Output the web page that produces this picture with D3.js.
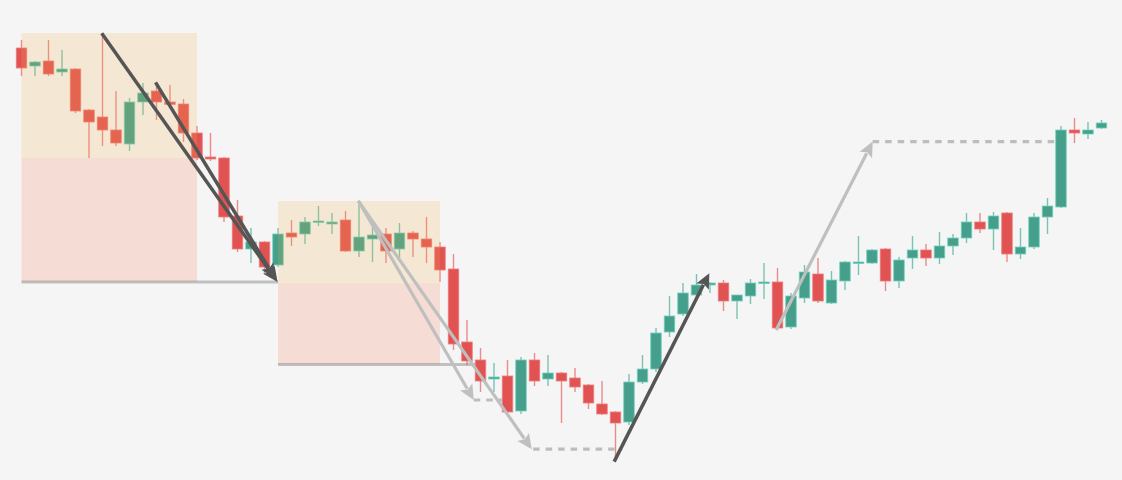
<!DOCTYPE html>
<html><head><meta charset="utf-8">
<script src="https://cdn.jsdelivr.net/npm/d3@7"></script>
<style>html,body{margin:0;padding:0;background:#f5f5f5;overflow:hidden}svg{display:block}</style>
</head><body>
<svg id="chart" width="1122" height="480"></svg>
<script>
// ---- data (price units) ----
const opens  = [108,103.5,104.75,102,102.75,92.5,90.75,87.5,84,94.5,97.25,94.5,94,86.75,80.75,80.5,66,57.75,59.5,53.75,61.75,61.5,64.4,64,65,57.25,60.25,61.5,57.75,61.75,60.25,58.25,52.75,34.5,30,25.25,26,17.25,30,25.25,26.75,25.5,23.75,19,17,14.5,24.5,27.75,37,41.5,46.25,48.75,49.25,44.75,46,49.25,49.5,38.25,45.5,51.5,44.25,49.75,54.25,54.25,57.75,49.75,55.5,57.5,55.5,58.5,60.5,64.5,62.75,66.75,56.5,58.25,65.75,68.25,87.5,86.5,88];
const highs  = [110,104.75,110,107.5,103,92.75,111.75,97.25,95.5,99.25,99.25,98.75,95.25,88.5,86.75,80.75,70,63,59.75,63,65,65.75,68.5,66.75,67.25,69.25,63.25,63,64.25,62.25,65.75,59.5,56.5,40,33,29.25,30,30.75,31.75,31.25,27,28,24,24.75,17.25,26.5,31.25,38,46,49.25,51.5,49.5,50,46.25,50.25,54.25,53,46.75,53.75,55.5,52.25,54.75,61,57.75,58,55.75,61,59,62,61.5,66.75,66.75,67,67,63,66.75,70.5,88.5,90.5,89.5,90];
const lows   = [101,101,101,101,91.75,80.5,83.5,83.5,82.25,91.25,90,93,84.5,80,79.75,64.5,57,54.25,51.5,53.25,58.5,59,63.5,61.5,57,55.75,54.5,54.25,55.5,55.75,54.25,49.5,32.5,28.75,22,22,16.5,16.5,23.5,23.5,14.25,22,17.75,16.25,5.5,13.75,24,27,35.75,41,45.75,46.75,42.25,40.25,44,45.25,37.5,37.75,44.25,44.25,44,47.5,51.25,54,47.25,48,52.75,53.5,54,56.25,59.25,61.75,57.5,54.5,55.25,57.75,61.5,68,84.25,85.25,87.75];
const closes = [103,104.5,101.5,102.75,92.25,89.5,87.5,84.25,94.5,96.75,94.5,93.9,86.75,80.5,80.25,65.75,57.75,59.5,53.25,61.5,60.75,64.5,64.75,64.5,57.25,60.75,61.25,57.25,61.75,60.25,58.25,52.5,34,29.75,24.75,25.75,17,30,24.75,26.75,24.75,23.25,19.25,16.5,14.25,24.5,27.75,36.75,41,46.75,48.75,49.25,44.75,46.25,49.25,49.5,38,46,52,44.75,50,54.5,54.5,57.5,49.75,55,57.5,55.5,58.5,60.5,64.5,62.75,66,56.5,58.25,65.75,68.5,87.5,86.75,87.5,89.25];

// zones
const zones = [
  {x0: 0,  x1: 13, top: 111.75, mid: 80.5,  bottom: 49.5},
  {x0: 19, x1: 31, top: 69.75,  mid: 49.15, bottom: 28.9}
];
// level lines
const levels = [
  {x0: 0,  x1: 19,   p: 49.5},
  {x0: 19, x1: 33.6, p: 28.9}
];
// arrows
const arrows = [
  {x0: 5.94, p0: 111.7, x1: 18.97, p1: 49.5, dark: true},
  {x0: 9.93, p0: 99.4,  x1: 18.8,  p1: 50.3, dark: true},
  {x0: 24.95, p0: 69.8, x1: 33.5,  p1: 20.0, dark: false},
  {x0: 24.95, p0: 69.8, x1: 37.8,  p1: 7.7,  dark: false},
  {x0: 43.9, p0: 4.6,   x1: 50.95, p1: 51.7, dark: true},
  {x0: 55.9, p0: 37.5,  x1: 63.05, p1: 84.6, dark: false}
];
const dashes = [
  {x0: 33.5, x1: 35.6, p: 20.0},
  {x0: 37.9, x1: 44.5, p: 7.7},
  {x0: 63.05, x1: 76.7, p: 84.6}
];

const W = 1122, H = 480;
const svg = d3.select("#chart");
const x = d3.scaleLinear().domain([0, 80]).range([21.5, 1101.5]);
const y = d3.scaleLinear().domain([0, 120]).range([480, 0]);
const bodyW = 10.5;

svg.append("rect").attr("width", W).attr("height", H).attr("fill", "#f5f5f5");

const candles = opens.map((o, i) => ({i, o, h: highs[i], l: lows[i], c: closes[i], up: closes[i] >= o}));

const g = svg.append("g");
g.selectAll("line.wick").data(candles).join("line")
  .attr("x1", d => x(d.i)).attr("x2", d => x(d.i))
  .attr("y1", d => y(d.h)).attr("y2", d => y(d.l))
  .attr("stroke", d => d.up ? "#7cc2b2" : "#ec8a8a")
  .attr("stroke-width", 1.4);
g.selectAll("rect.body").data(candles).join("rect")
  .attr("x", d => x(d.i) - bodyW / 2)
  .attr("width", bodyW)
  .attr("y", d => y(Math.max(d.o, d.c)))
  .attr("height", d => Math.max(1.5, Math.abs(y(d.o) - y(d.c))))
  .attr("fill", d => d.up ? "#459f8b" : "#e15353")
  .attr("stroke", d => d.up ? "#6fd3bf" : "#f07c7c")
  .attr("stroke-width", 0.8);

// zones overlay
zones.forEach(z => {
  svg.append("rect").attr("x", x(z.x0)).attr("width", x(z.x1) - x(z.x0))
    .attr("y", y(z.top)).attr("height", y(z.mid) - y(z.top))
    .attr("fill", "rgb(245,175,67)").attr("fill-opacity", 0.18);
  svg.append("rect").attr("x", x(z.x0)).attr("width", x(z.x1) - x(z.x0))
    .attr("y", y(z.mid)).attr("height", y(z.bottom) - y(z.mid))
    .attr("fill", "rgb(245,120,80)").attr("fill-opacity", 0.2);
});

levels.forEach(l => {
  svg.append("line").attr("x1", x(l.x0)).attr("x2", x(l.x1))
    .attr("y1", y(l.p)).attr("y2", y(l.p))
    .attr("stroke", "rgb(120,120,120)").attr("stroke-opacity", 0.42).attr("stroke-width", 3);
});

dashes.forEach(d => {
  svg.append("line").attr("x1", x(d.x0)).attr("x2", x(d.x1))
    .attr("y1", y(d.p)).attr("y2", y(d.p))
    .attr("stroke", "#bdbdbd").attr("stroke-width", 3.2).attr("stroke-dasharray", "6.5,6");
});

arrows.forEach(a => {
  const x0 = x(a.x0), y0 = y(a.p0), x1 = x(a.x1), y1 = y(a.p1);
  const dx = x1 - x0, dy = y1 - y0, len = Math.hypot(dx, dy);
  const ux = dx / len, uy = dy / len;
  const headL = 15, headW = 7;
  const col = a.dark ? "#555555" : "#bfbfbf";
  const bx = x1 - ux * headL, by = y1 - uy * headL;
  svg.append("line").attr("x1", x0).attr("y1", y0).attr("x2", bx + ux * 2).attr("y2", by + uy * 2)
    .attr("stroke", col).attr("stroke-width", a.dark ? 3.5 : 3.2).attr("stroke-linecap", "butt");
  const pts = [[x1, y1], [bx - uy * headW, by + ux * headW], [bx + ux * 3, by + uy * 3], [bx + uy * headW, by - ux * headW]];
  svg.append("path").attr("d", "M" + pts.map(p => p.join(",")).join("L") + "Z").attr("fill", col);
});
</script>
</body></html>
